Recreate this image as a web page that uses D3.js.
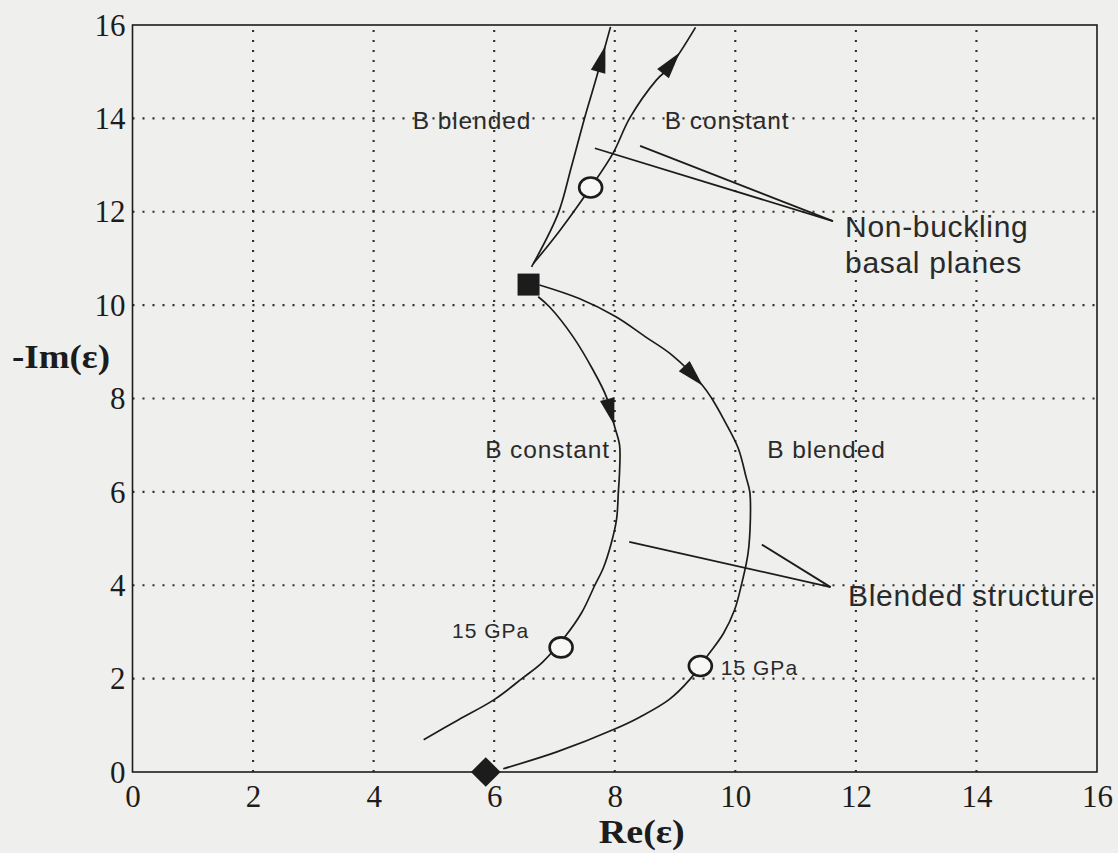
<!DOCTYPE html>
<html>
<head>
<meta charset="utf-8">
<script src="https://cdn.jsdelivr.net/npm/d3@7"></script>
<style>
  html, body { margin: 0; padding: 0; background: #efefed; }
  svg { display: block; }
</style>
</head>
<body>
<div id="chart"></div>
<script>
// ---------------- data ----------------
const xTickValues = [0, 2, 4, 6, 8, 10, 12, 14, 16];
const yTickValues = [0, 2, 4, 6, 8, 10, 12, 14, 16];
const gridValues = [2, 4, 6, 8, 10, 12, 14];

// Non-buckling basal planes, B blended (from start square upward)
const upperBlendedX = [6.62, 7.06, 7.28, 7.50, 7.70, 7.93];
const upperBlendedY = [10.82, 11.96, 12.96, 14.01, 14.89, 15.96];

// Non-buckling basal planes, B constant
const upperConstantX = [6.65, 7.09, 7.60, 7.97, 8.25, 8.69, 8.91, 9.34];
const upperConstantY = [10.89, 11.60, 12.52, 13.25, 14.01, 14.82, 15.10, 15.95];

// Blended structure, B constant
const lowerConstantX = [6.73, 6.92, 7.31, 7.64, 7.86, 8.00, 8.08, 8.08, 8.06, 8.03, 7.94, 7.81, 7.67, 7.45, 7.17, 6.80, 6.48, 6.00, 5.41, 4.83];
const lowerConstantY = [10.18, 9.96, 9.32, 8.61, 8.04, 7.39, 7.00, 6.44, 6.00, 5.41, 4.89, 4.37, 4.00, 3.41, 2.89, 2.35, 2.02, 1.55, 1.12, 0.69];

// Blended structure, B blended
const lowerBlendedX = [6.75, 7.41, 8.02, 8.51, 8.95, 9.45, 9.61, 9.83, 10.05, 10.18, 10.24, 10.25, 10.21, 10.10, 9.99, 9.80, 9.55, 9.25, 8.90, 8.42, 8.00, 7.04, 6.15];
const lowerBlendedY = [10.43, 10.14, 9.75, 9.32, 8.93, 8.29, 8.00, 7.50, 6.93, 6.31, 6.00, 5.42, 4.67, 4.00, 3.48, 2.96, 2.51, 1.99, 1.55, 1.18, 0.92, 0.43, 0.07];

// markers
const startSquare = [6.57, 10.44];
const diamondPoint = [5.86, 0.0];
const circleX = [7.60, 7.11, 9.42];
const circleY = [12.52, 2.67, 2.27];

// arrow tips (data coords), one per curve
const arrowTipX = [7.91, 9.11, 8.00, 9.47];
const arrowTipY = [15.53, 15.39, 7.43, 8.29];

// annotation texts and anchor points (data coords)
const smallLabels = ["B blended", "B constant", "B constant", "B blended"];
const smallLabelX = [4.65, 8.83, 5.85, 10.53];
const smallLabelY = [13.77, 13.77, 6.72, 6.72];
const gpaLabels = ["15 GPa", "15 GPa"];
const gpaLabelX = [5.30, 9.76];
const gpaLabelY = [2.87, 2.08];
const bigLabels = ["Non-buckling", "basal planes", "Blended structure"];
const bigLabelX = [11.82, 11.82, 11.87];
const bigLabelY = [11.46, 10.69, 3.55];
// leader lines: start (x1,y1) -> end (x2,y2)
const leaderX1 = [7.67, 8.42, 8.24, 10.44];
const leaderY1 = [13.36, 13.41, 4.93, 4.87];
const leaderX2 = [11.62, 11.62, 11.58, 11.58];
const leaderY2 = [11.80, 11.80, 3.96, 3.96];

const xTitle = "Re(ε)";
const yTitle = "-Im(ε)";

// ---------------- drawing ----------------
(function () {
const W = 1118, H = 853;
const mLeft = 132.5, mRight = 1097, mTop = 25, mBottom = 772;
const ink = "#1c1c1c";

const svg = d3.select("#chart").append("svg").attr("width", W).attr("height", H);
svg.append("rect").attr("width", W).attr("height", H).attr("fill", "#efefed");

const x = d3.scaleLinear().domain([0, 16]).range([mLeft, mRight]);
const y = d3.scaleLinear().domain([0, 16]).range([mBottom, mTop]);

// grid
const grid = svg.append("g").attr("stroke", "#2e2e2e").attr("stroke-width", 2.1).attr("stroke-dasharray", "2,8");
grid.selectAll("line.v").data(gridValues).join("line").attr("class", "v")
  .attr("x1", d => x(d)).attr("x2", d => x(d)).attr("y1", mBottom).attr("y2", mTop);
grid.selectAll("line.h").data(gridValues).join("line").attr("class", "h")
  .attr("y1", d => y(d)).attr("y2", d => y(d)).attr("x1", mLeft).attr("x2", mRight);

// axes (labels only)
const serif = "'Liberation Serif', 'DejaVu Serif', serif";
const gx = svg.append("g").attr("transform", `translate(0,${mBottom})`)
  .call(d3.axisBottom(x).tickValues(xTickValues).tickSize(0).tickPadding(13).tickFormat(d3.format("d")));
gx.select(".domain").remove();
gx.selectAll("text").attr("font-family", serif).attr("font-size", 31).attr("fill", ink);

const gy = svg.append("g").attr("transform", `translate(${mLeft},0)`)
  .call(d3.axisLeft(y).tickValues(yTickValues).tickSize(0).tickPadding(7).tickFormat(d3.format("d")));
gy.select(".domain").remove();
gy.selectAll("text").attr("font-family", serif).attr("font-size", 31).attr("fill", ink).attr("dy", "0.33em");

// frame
svg.append("rect").attr("x", mLeft).attr("y", mTop).attr("width", mRight - mLeft).attr("height", mBottom - mTop)
  .attr("fill", "none").attr("stroke", ink).attr("stroke-width", 1.6);

// axis titles
svg.append("text").attr("x", (mLeft + mRight) / 2 + 27).attr("y", 843).attr("text-anchor", "middle")
  .attr("font-family", serif).attr("font-weight", "bold").attr("font-size", 33).attr("fill", ink)
  .attr("textLength", 86).attr("lengthAdjust", "spacingAndGlyphs").text(xTitle);
svg.append("text").attr("x", 12).attr("y", 368).attr("text-anchor", "start")
  .attr("font-family", serif).attr("font-weight", "bold").attr("font-size", 33).attr("fill", ink)
  .attr("textLength", 98).attr("lengthAdjust", "spacingAndGlyphs").text(yTitle);

// curves
const line = d3.line().x(d => x(d[0])).y(d => y(d[1])).curve(d3.curveCatmullRom.alpha(0.5));
const curves = [
  d3.zip(upperBlendedX, upperBlendedY),
  d3.zip(upperConstantX, upperConstantY),
  d3.zip(lowerConstantX, lowerConstantY),
  d3.zip(lowerBlendedX, lowerBlendedY)
];
const paths = svg.append("g").selectAll("path").data(curves).join("path")
  .attr("d", line).attr("fill", "none").attr("stroke", ink).attr("stroke-width", 1.7);

// arrowheads placed on the curves, pointing along the direction of travel
const arrowLen = 27, arrowHalf = 7.5;
paths.each(function (d, i) {
  const node = this;
  const L = node.getTotalLength();
  const tx = x(arrowTipX[i]), ty = y(arrowTipY[i]);
  let best = 0, bd = Infinity;
  for (let l = 0; l <= L; l += 0.5) {
    const p = node.getPointAtLength(l);
    const dd = (p.x - tx) ** 2 + (p.y - ty) ** 2;
    if (dd < bd) { bd = dd; best = l; }
  }
  const p = node.getPointAtLength(best);
  const q = node.getPointAtLength(Math.max(0, best - arrowLen));
  let dx = p.x - q.x, dy = p.y - q.y;
  const n = Math.hypot(dx, dy) || 1; dx /= n; dy /= n;
  const bx = p.x - dx * arrowLen, by = p.y - dy * arrowLen;
  const pts = [[p.x, p.y], [bx - dy * arrowHalf, by + dx * arrowHalf], [bx + dy * arrowHalf, by - dx * arrowHalf]];
  svg.append("path").attr("d", "M" + pts.map(a => a.join(",")).join("L") + "Z").attr("fill", ink);
});

// leader lines
svg.append("g").selectAll("line").data(d3.range(leaderX1.length)).join("line")
  .attr("x1", i => x(leaderX1[i])).attr("y1", i => y(leaderY1[i]))
  .attr("x2", i => x(leaderX2[i])).attr("y2", i => y(leaderY2[i]))
  .attr("stroke", ink).attr("stroke-width", 1.8);

// markers
svg.append("path").attr("d", d3.symbol(d3.symbolSquare, 484)())
  .attr("transform", `translate(${x(startSquare[0])},${y(startSquare[1])})`).attr("fill", ink);
svg.append("path").attr("d", d3.symbol(d3.symbolSquare, 440)())
  .attr("transform", `translate(${x(diamondPoint[0])},${y(diamondPoint[1])}) rotate(45)`).attr("fill", ink);
svg.append("g").selectAll("ellipse").data(d3.range(circleX.length)).join("ellipse")
  .attr("cx", i => x(circleX[i])).attr("cy", i => y(circleY[i]))
  .attr("rx", 11.5).attr("ry", 10).attr("fill", "#f7f7f5").attr("stroke", ink).attr("stroke-width", 2.6);

// annotation labels
const sans = "'Liberation Sans', Arial, Helvetica, sans-serif";
svg.append("g").selectAll("text").data(d3.range(smallLabels.length)).join("text")
  .attr("x", i => x(smallLabelX[i])).attr("y", i => y(smallLabelY[i]))
  .attr("font-family", sans).attr("font-size", 24.5).attr("letter-spacing", 0.9).attr("fill", "#2a2a2a")
  .text(i => smallLabels[i]);
svg.append("g").selectAll("text").data(d3.range(gpaLabels.length)).join("text")
  .attr("x", i => x(gpaLabelX[i])).attr("y", i => y(gpaLabelY[i]))
  .attr("font-family", sans).attr("font-size", 21).attr("letter-spacing", 1.0).attr("fill", "#2a2a2a")
  .text(i => gpaLabels[i]);
svg.append("g").selectAll("text").data(d3.range(bigLabels.length)).join("text")
  .attr("x", i => x(bigLabelX[i])).attr("y", i => y(bigLabelY[i]))
  .attr("font-family", sans).attr("font-size", 30).attr("letter-spacing", 0.7).attr("fill", "#2a2a2a")
  .text(i => bigLabels[i]);
})();
</script>
</body>
</html>
